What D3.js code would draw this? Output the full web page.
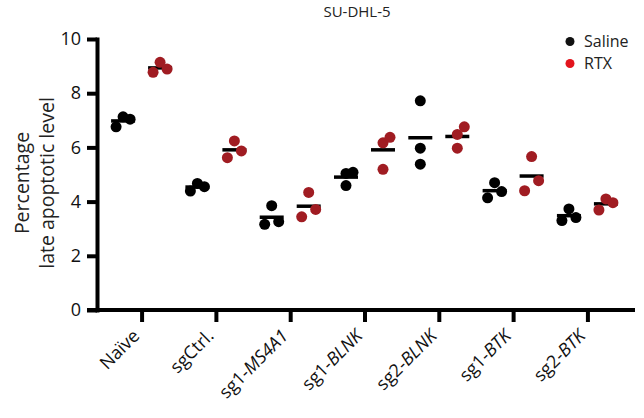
<!DOCTYPE html>
<html>
<head>
<meta charset="utf-8">
<script src="https://cdn.jsdelivr.net/npm/d3@7"></script>
<style>
  body { margin: 0; background: #fff; }
  svg { display: block; font-family: "Open Sans", sans-serif; }
</style>
</head>
<body>
<div id="chart"></div>
<script>
const categories = ["Naïve", "sgCtrl.", "sg1-MS4A1", "sg1-BLNK", "sg2-BLNK", "sg1-BTK", "sg2-BTK"];
const labelPrefix = ["Naïve", "sgCtrl.", "sg1-", "sg1-", "sg2-", "sg1-", "sg2-"];
const labelGene = ["", "", "MS4A1", "BLNK", "BLNK", "BTK", "BTK"];
const seriesNames = ["Saline", "RTX"];

// three replicates per group, in left-to-right order
const salineValues = [
  [6.76, 7.13, 7.04],
  [4.39, 4.67, 4.55],
  [3.16, 3.85, 3.26],
  [4.59, 5.04, 5.08],
  [7.72, 5.97, 5.38],
  [4.14, 4.70, 4.37],
  [3.30, 3.73, 3.41],
];
const rtxValues = [
  [8.77, 9.14, 8.89],
  [5.62, 6.24, 5.87],
  [3.44, 4.34, 3.71],
  [5.19, 6.17, 6.37],
  [5.97, 6.48, 6.76],
  [4.40, 5.66, 4.77],
  [3.69, 4.10, 3.96],
];
const yTicks = [0, 2, 4, 6, 8, 10];

const width = 644;
const height = 418;
const dotR = 5.5;
const colors = { Saline: "#000000", RTX: "#a01c22" };
const legendColors = { Saline: "#111111", RTX: "#e3151d" };

const svg = d3.select("#chart").append("svg")
  .attr("width", width)
  .attr("height", height);

const y = d3.scaleLinear().domain([0, 10]).range([310, 39]);
const x = d3.scalePoint().domain(categories).range([97, 632]).padding(0.6);
const xSeries = d3.scalePoint().domain(seriesNames).range([-18.5, 18.5]);

// title
svg.append("text")
  .attr("x", 357)
  .attr("y", 16.5)
  .attr("text-anchor", "middle")
  .style("font-size", "15px")
  .attr("fill", "#222")
  .text("SU-DHL-5");

// y axis
const yAxis = svg.append("g")
  .attr("transform", `translate(${x.range()[0]},0)`)
  .call(d3.axisLeft(y).tickValues(yTicks).tickSize(10).tickSizeOuter(0).tickPadding(6));
yAxis.select(".domain").attr("stroke-width", 4).attr("stroke-linecap", "square");
yAxis.selectAll(".tick line").attr("stroke-width", 4);
yAxis.selectAll(".tick text")
  .style("font-size", "18px")
  .style("font-family", "Open Sans, sans-serif")
  .attr("fill", "#111");

// x axis
const xAxis = svg.append("g")
  .attr("transform", `translate(0,${y(0)})`)
  .call(d3.axisBottom(x).tickSize(12).tickSizeOuter(0).tickFormat(""));
xAxis.select(".domain").remove();
xAxis.insert("line", ":first-child")
  .attr("x1", x.range()[0] - 10)
  .attr("x2", x.range()[1] + 3)
  .attr("stroke", "#000")
  .attr("stroke-width", 4);
xAxis.selectAll(".tick line").attr("stroke-width", 4);

xAxis.selectAll(".tick").each(function (cat) {
  const i = categories.indexOf(cat);
  const t = d3.select(this).append("text")
    .attr("transform", "translate(-1.5,27) rotate(-45)")
    .attr("text-anchor", "end")
    .attr("fill", "#111")
    .style("font-size", "18px")
    .style("font-family", "Open Sans, sans-serif");
  t.append("tspan").text(labelPrefix[i]);
  if (labelGene[i]) t.append("tspan").style("font-style", "italic").text(labelGene[i]);
});

// y axis title
const yTitle = svg.append("g").style("font-size", "19.5px").attr("fill", "#222");
yTitle.append("text")
  .attr("transform", "translate(29,183) rotate(-90)")
  .attr("text-anchor", "middle")
  .text("Percentage");
yTitle.append("text")
  .attr("transform", "translate(54,183) rotate(-90)")
  .attr("text-anchor", "middle")
  .text("late apoptotic level");

// points: isolated points sit on the centre, overlapping ones take a slot by order
function jitter(values) {
  const ys = values.map(y);
  const overlaps = ys.map((v, i) => ys.some((w, j) => j !== i && Math.abs(v - w) < 2 * dotR));
  return values.map((v, i) => (overlaps[i] ? (i - 1) * 7 : 0));
}

const groups = [];
categories.forEach((cat, ci) => {
  [["Saline", salineValues[ci]], ["RTX", rtxValues[ci]]].forEach(([series, vals]) => {
    groups.push({ cat, series, vals, mean: d3.mean(vals), offsets: jitter(vals) });
  });
});

const plot = svg.append("g");

plot.selectAll(".mean")
  .data(groups)
  .join("line")
  .attr("class", "mean")
  .attr("x1", (d) => x(d.cat) + xSeries(d.series) - 12)
  .attr("x2", (d) => x(d.cat) + xSeries(d.series) + 12)
  .attr("y1", (d) => y(d.mean))
  .attr("y2", (d) => y(d.mean))
  .attr("stroke", "#000")
  .attr("stroke-width", 3.5);

const points = groups.flatMap((g) =>
  g.vals.map((v, i) => ({ cat: g.cat, series: g.series, value: v, dx: g.offsets[i] })));

plot.selectAll(".dot")
  .data(points)
  .join("circle")
  .attr("class", "dot")
  .attr("cx", (d) => x(d.cat) + xSeries(d.series) + d.dx)
  .attr("cy", (d) => y(d.value))
  .attr("r", dotR)
  .attr("fill", (d) => colors[d.series]);

// legend
const legend = svg.append("g").attr("transform", "translate(570,41.5)");
seriesNames.forEach((name, i) => {
  const row = legend.append("g").attr("transform", `translate(0,${i * 22})`);
  row.append("circle").attr("r", 4.5).attr("fill", legendColors[name]);
  row.append("text")
    .attr("x", 14)
    .attr("y", 5.5)
    .attr("fill", "#222")
    .style("font-size", "16px")
    .text(name);
});
</script>
</body>
</html>
